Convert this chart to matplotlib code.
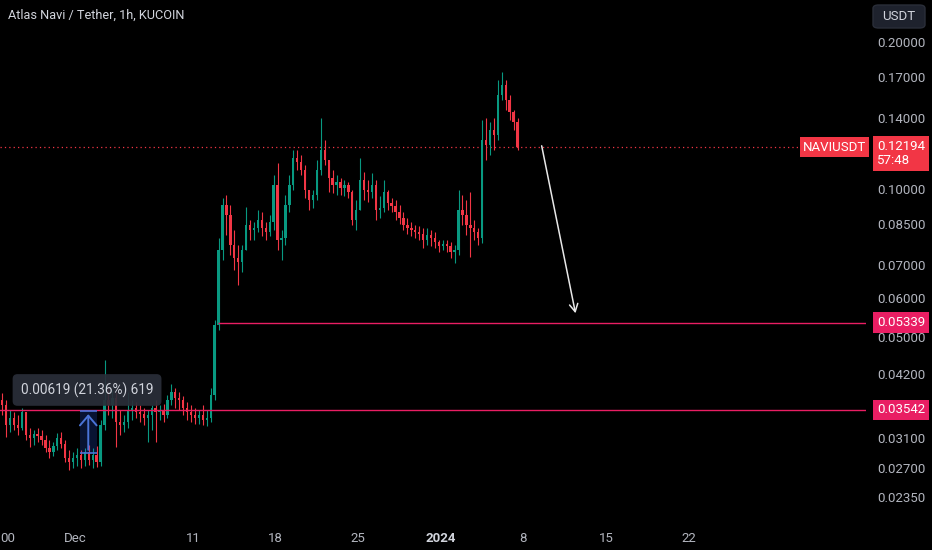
import numpy as np
import matplotlib.pyplot as plt
import matplotlib.dates as mdates
import matplotlib.transforms as mtransforms
from matplotlib.patches import Rectangle, FancyBboxPatch
from datetime import datetime, timedelta

# 8h candles (NAVI/USDT, KuCoin)
first_open = 0.0371
highs = [0.0384, 0.0371, 0.0354, 0.0351, 0.0346, 0.0357, 0.0351, 0.0326, 0.0322, 0.0326,
         0.0322, 0.0315, 0.0307, 0.0305, 0.0318, 0.0319, 0.0307, 0.0293, 0.0290, 0.0296,
         0.0293, 0.0296, 0.0300, 0.0296, 0.0299, 0.0338, 0.0448, 0.0392, 0.0389, 0.0385,
         0.0354, 0.0346, 0.0385, 0.0371, 0.0368, 0.0362, 0.0357, 0.0354, 0.0362, 0.0371,
         0.0362, 0.0364, 0.0380, 0.0401, 0.0392, 0.0385, 0.0378, 0.0368, 0.0362, 0.0357,
         0.0354, 0.0362, 0.0354, 0.0392, 0.0541, 0.0795, 0.0960, 0.0974, 0.0929, 0.0826,
         0.0770, 0.0770, 0.0920, 0.0865, 0.0857, 0.0907, 0.0899, 0.0857, 0.0886, 0.1069,
         0.1132, 0.0826, 0.0974, 0.1069, 0.1203, 0.1203, 0.1175, 0.1121, 0.0997, 0.0997,
         0.1148, 0.1399, 0.1261, 0.1150, 0.1095, 0.1069, 0.1054, 0.1045, 0.1035, 0.0997,
         0.0951, 0.1159, 0.1085, 0.1045, 0.1080, 0.1045, 0.0969, 0.1045, 0.0997, 0.0960,
         0.0951, 0.0929, 0.0899, 0.0873, 0.0857, 0.0845, 0.0841, 0.0833, 0.0833, 0.0826,
         0.0818, 0.0788, 0.0788, 0.0788, 0.0781, 0.0770, 0.0997, 0.0974, 0.0951, 0.0988,
         0.0865, 0.0833, 0.1386, 0.1399, 0.1373, 0.1399, 0.1673, 0.1737, 0.1673, 0.1559,
         0.1452, 0.1399]
lows = [0.0346, 0.0312, 0.0319, 0.0322, 0.0315, 0.0322, 0.0307, 0.0297, 0.0300, 0.0305,
        0.0300, 0.0290, 0.0282, 0.0285, 0.0293, 0.0296, 0.0277, 0.0267, 0.0269, 0.0272,
        0.0269, 0.0272, 0.0273, 0.0269, 0.0271, 0.0272, 0.0322, 0.0346, 0.0341, 0.0297,
        0.0315, 0.0319, 0.0326, 0.0338, 0.0341, 0.0335, 0.0330, 0.0305, 0.0322, 0.0305,
        0.0338, 0.0335, 0.0341, 0.0362, 0.0357, 0.0354, 0.0346, 0.0338, 0.0335, 0.0332,
        0.0332, 0.0330, 0.0329, 0.0335, 0.0371, 0.0516, 0.0717, 0.0807, 0.0735, 0.0684,
        0.0638, 0.0677, 0.0752, 0.0788, 0.0788, 0.0818, 0.0803, 0.0788, 0.0803, 0.0826,
        0.0752, 0.0717, 0.0770, 0.0899, 0.0997, 0.1095, 0.1069, 0.0960, 0.0907, 0.0916,
        0.0951, 0.1069, 0.1121, 0.0988, 0.0983, 0.0974, 0.0974, 0.0969, 0.0960, 0.0845,
        0.0826, 0.0907, 0.0951, 0.0942, 0.0960, 0.0865, 0.0873, 0.0899, 0.0907, 0.0899,
        0.0865, 0.0849, 0.0826, 0.0810, 0.0803, 0.0795, 0.0788, 0.0759, 0.0770, 0.0766,
        0.0759, 0.0745, 0.0752, 0.0745, 0.0724, 0.0707, 0.0735, 0.0845, 0.0807, 0.0728,
        0.0788, 0.0770, 0.0777, 0.1148, 0.1175, 0.1203, 0.1261, 0.1522, 0.1452, 0.1386,
        0.1322, 0.1203]
closes = [0.0362, 0.0330, 0.0341, 0.0330, 0.0326, 0.0351, 0.0315, 0.0310, 0.0316, 0.0313,
          0.0307, 0.0296, 0.0290, 0.0299, 0.0310, 0.0302, 0.0282, 0.0277, 0.0282, 0.0286,
          0.0280, 0.0290, 0.0280, 0.0286, 0.0277, 0.0330, 0.0371, 0.0362, 0.0375, 0.0335,
          0.0330, 0.0335, 0.0354, 0.0357, 0.0351, 0.0348, 0.0341, 0.0346, 0.0357, 0.0351,
          0.0354, 0.0346, 0.0371, 0.0385, 0.0375, 0.0371, 0.0357, 0.0351, 0.0346, 0.0341,
          0.0346, 0.0338, 0.0341, 0.0380, 0.0528, 0.0752, 0.0929, 0.0886, 0.0770, 0.0724,
          0.0711, 0.0752, 0.0845, 0.0826, 0.0833, 0.0865, 0.0833, 0.0818, 0.0857, 0.1020,
          0.0788, 0.0795, 0.0929, 0.1020, 0.1159, 0.1137, 0.1095, 0.0997, 0.0951, 0.0974,
          0.1095, 0.1203, 0.1148, 0.1054, 0.1020, 0.1035, 0.1006, 0.1020, 0.0988, 0.0865,
          0.0907, 0.1045, 0.0997, 0.0988, 0.1020, 0.0907, 0.0916, 0.0988, 0.0938, 0.0925,
          0.0899, 0.0873, 0.0845, 0.0833, 0.0826, 0.0818, 0.0810, 0.0788, 0.0807, 0.0795,
          0.0781, 0.0766, 0.0773, 0.0766, 0.0745, 0.0752, 0.0907, 0.0886, 0.0845, 0.0833,
          0.0818, 0.0795, 0.1261, 0.1232, 0.1322, 0.1291, 0.1559, 0.1634, 0.1522, 0.1439,
          0.1373, 0.12194]

last_price = 0.12194
level_hi = 0.05339
level_lo = 0.03542
measure_top = 0.03517
measure_bottom = 0.02898
measure_text = "0.00619 (21.36%) 619"

y_ticks = [0.20, 0.17, 0.14, 0.10, 0.085, 0.07, 0.06, 0.05, 0.042, 0.031, 0.027, 0.0235]
y_labels = ["0.20000", "0.17000", "0.14000", "0.10000", "0.08500", "0.07000", "0.06000",
            "0.05000", "0.04200", "0.03100", "0.02700", "0.02350"]
x_tick_dates = [datetime(2023, 11, 25, 8), datetime(2023, 12, 1), datetime(2023, 12, 11),
                datetime(2023, 12, 18), datetime(2023, 12, 25), datetime(2024, 1, 1),
                datetime(2024, 1, 8), datetime(2024, 1, 15), datetime(2024, 1, 22)]
x_tick_labels = ["00", "Dec", "11", "18", "25", "2024", "8", "15", "22"]

UP = "#089981"
DOWN = "#f23645"
LEVEL = "#e91e63"
TXT = "#b2b5be"
BG = "#000000"

plt.rcParams['font.family'] = ['Roboto', 'DejaVu Sans']

W, H = 932, 550
fig = plt.figure(figsize=(W / 100, H / 100), dpi=100, facecolor=BG)
ax = fig.add_axes([0, 28 / H, 866 / W, 522 / H])
ax.set_facecolor(BG)
for s in ax.spines.values():
    s.set_visible(False)

t0 = datetime(2023, 11, 24, 16)
times = [t0 + timedelta(hours=8 * i + 4) for i in range(len(closes))]
xs = mdates.date2num(times)
opens = [first_open] + closes[:-1]

o = np.array(opens)
c = np.array(closes)
up = c >= o
cols = np.where(up, UP, DOWN)
ax.vlines(xs, lows, highs, colors=cols, linewidth=0.8, zorder=3)
bottoms = np.minimum(o, c)
heights = np.maximum(np.abs(c - o), bottoms * 0.004)
ax.bar(xs, heights, bottom=bottoms, width=0.2, color=cols, linewidth=0, zorder=4)

ax.set_yscale('log')
dec1 = mdates.date2num(datetime(2023, 12, 1))
ax.set_xlim(dec1 - 6.356, dec1 + 67.03)
ax.set_ylim(0.0209, 0.2437)

# ticks
ax.yaxis.tick_right()
ax.yaxis.set_minor_locator(plt.NullLocator())
ax.set_yticks(y_ticks)
ax.set_yticklabels(y_labels)
ax.tick_params(axis='y', length=0, pad=8, labelsize=9.5, labelcolor=TXT)
ax.set_xticks(mdates.date2num(x_tick_dates))
ax.set_xticklabels(x_tick_labels)
ax.tick_params(axis='x', length=0, pad=7, labelsize=9.5, labelcolor=TXT)
for lab in ax.get_xticklabels():
    if lab.get_text() == "2024":
        lab.set_fontweight('bold')
        lab.set_color("#d1d4dc")

# horizontal levels
start_hi = mdates.date2num(datetime(2023, 12, 13, 3))
ax.hlines(level_hi, start_hi, ax.get_xlim()[1], color=LEVEL, linewidth=1, zorder=5)
ax.axhline(level_lo, color=LEVEL, linewidth=1, zorder=5)
# last price dotted line up to the symbol label
x_lbl = ax.get_xlim()[0] + (ax.get_xlim()[1] - ax.get_xlim()[0]) * 803 / 866
ax.hlines(last_price, ax.get_xlim()[0], x_lbl, color=DOWN, linewidth=0.9,
          linestyles=(0, (1, 2.5)), zorder=2)

# price range measurement
m_left = mdates.date2num(datetime(2023, 12, 1, 10))
m_right = mdates.date2num(datetime(2023, 12, 2, 20))
m_mid = (m_left + m_right) / 2
ax.add_patch(Rectangle((m_left, measure_bottom), m_right - m_left, measure_top - measure_bottom,
                       facecolor="#2962ff", alpha=0.2, edgecolor='none', zorder=6))
ax.hlines([measure_bottom, measure_top], m_left, m_right, color="#4a74d8", linewidth=1.2, zorder=7)
ax.annotate("", xy=(m_mid, measure_top), xytext=(m_mid, measure_bottom),
            arrowprops=dict(arrowstyle="->,head_length=0.7,head_width=0.6", color="#4a74d8", lw=1.4),
            zorder=7)
ax.text(mdates.date2num(datetime(2023, 12, 2, 0, 30)), 0.0389, measure_text, color="#d1d4dc",
        fontsize=9.8, ha='center', va='center', zorder=8,
        bbox=dict(boxstyle="round,pad=0.6,rounding_size=0.35", facecolor="#2a2e39", alpha=0.92,
                  edgecolor='none'))

# projection arrow
ax.annotate("", xy=(mdates.date2num(datetime(2024, 1, 12, 11)), 0.0551),
            xytext=(mdates.date2num(datetime(2024, 1, 9, 12)), 0.1243),
            arrowprops=dict(arrowstyle="->,head_length=0.55,head_width=0.3", color="#e8e8e8", lw=1.1),
            zorder=8)

# price axis labels
blend = mtransforms.blended_transform_factory(fig.transFigure, ax.transData)
for val, txt in [(level_hi, "0.05339"), (level_lo, "0.03542")]:
    ax.text(877 / W, val, txt, transform=blend, color="white", fontsize=9.5, ha='left', va='center',
            zorder=10, clip_on=False,
            bbox=dict(boxstyle="square,pad=0.28", facecolor=LEVEL, edgecolor='none'))
ax.annotate("0.12194\n57:48", xy=(877 / W, last_price), xycoords=blend, xytext=(0, -6.5),
            textcoords='offset pixels', color="white", fontsize=9.5, ha='left', va='center',
            linespacing=1.15, zorder=10, annotation_clip=False,
            bbox=dict(boxstyle="square,pad=0.28", facecolor=DOWN, edgecolor='none'))
ax.text(834.5 / W, last_price, "NAVIUSDT", transform=blend, color="white", fontsize=9.5,
        ha='center', va='center', zorder=10, clip_on=False,
        bbox=dict(boxstyle="square,pad=0.25", facecolor=DOWN, edgecolor='none'))

# header
fig.text(8 / W, 1 - 15 / H, "Atlas Navi / Tether, 1h, KUCOIN", color="#d1d4dc", fontsize=9.2,
         ha='left', va='center')
fig.patches.append(FancyBboxPatch((873 / W, 1 - 28 / H), 52 / W, 23 / H,
                                  boxstyle="round,pad=0,rounding_size=0.006",
                                  transform=fig.transFigure, facecolor="#1e222d",
                                  edgecolor="#2a2e39", linewidth=1))
fig.text(899 / W, 1 - 16 / H, "USDT", color="#d1d4dc", fontsize=9.5, ha='center', va='center')

fig.savefig("out.png", dpi=100, facecolor=BG)
